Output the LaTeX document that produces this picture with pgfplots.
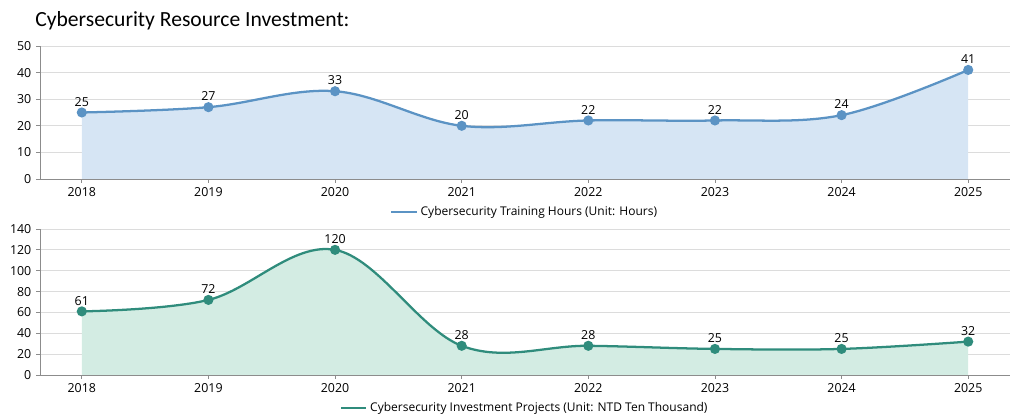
\documentclass[border=0pt]{standalone}
\usepackage{fontspec}
\setmainfont{Open Sans}
\newfontfamily\titlefont{Carlito}
\usepackage{pgfplots}
\pgfplotsset{compat=1.18}

\definecolor{blueline}{HTML}{5B93C4}
\definecolor{bluefill}{HTML}{D6E5F4}
\definecolor{greenline}{HTML}{2F8C7C}
\definecolor{greenfill}{HTML}{D3ECE3}
\definecolor{gridgray}{HTML}{DCDCDC}
\definecolor{axisgray}{HTML}{8C8C8C}

\pgfplotsset{
  panel/.style={
    scale only axis,
    anchor=south west,
    width=727.5pt,
    xmin=-0.33, xmax=7.33,
    ymin=0,
    xtick={0,...,7},
    xticklabels={2018,2019,2020,2021,2022,2023,2024,2025},
    axis x line*=bottom,
    axis y line*=left,
    axis line style={axisgray, line width=0.6pt},
    tick style={axisgray, line width=0.6pt},
    tick align=outside,
    major tick length=3pt,
    ymajorgrids,
    grid style={gridgray, line width=0.6pt},
    ticklabel style={font=\fontsize{9.3}{10}\selectfont, text=black},
    /pgf/number format/assume math mode=true,
    legend style={draw=none, fill=none, font=\fontsize{9}{10}\selectfont,
      legend cell align=left},
    legend image code/.code={\draw[line width=1.8pt] (0pt,0pt) -- (19pt,0pt);},
    nodes near coords,
    every node near coord/.append style={font=\fontsize{9.3}{10}\selectfont,
      text=black, yshift=0.5pt},
  },
}

\begin{document}
\begin{tikzpicture}
\path[use as bounding box] (0,0) rectangle (768pt,312pt);
\node[anchor=base west, inner sep=0pt] at (26.25pt,292pt)
  {\titlefont\fontsize{16.2}{20}\selectfont Cybersecurity Resource Investment:};

\begin{axis}[panel,
  at={(30pt,177.75pt)},
  height=99.75pt,
  ymax=50, ytick={0,10,...,50},
  legend style={at={(0.5,-0.248)}, anchor=center},
]
\addplot[draw=none, fill=bluefill, smooth, tension=0.6, forget plot,
  nodes near coords={}]
  coordinates {(0,25) (1,27) (2,33) (3,20) (4,22) (5,22) (6,24) (7,41)}
  \closedcycle;
\addplot[blueline, line width=1.7pt, smooth, tension=0.6,
  mark=*, mark size=2.9pt, mark options={fill=blueline, draw=blueline}]
  coordinates {(0,25) (1,27) (2,33) (3,20) (4,22) (5,22) (6,24) (7,41)};
\addlegendentry{Cybersecurity Training Hours (Unit: Hours)}
\end{axis}

\begin{axis}[panel,
  at={(30pt,30.75pt)},
  height=109.5pt,
  ymax=140, ytick={0,20,...,140},
  legend style={at={(0.5,-0.226)}, anchor=center},
]
\addplot[draw=none, fill=greenfill, smooth, tension=0.6, forget plot,
  nodes near coords={}]
  coordinates {(0,61) (1,72) (2,120) (3,28) (4,28) (5,25) (6,25) (7,32)}
  \closedcycle;
\addplot[greenline, line width=1.7pt, smooth, tension=0.6,
  mark=*, mark size=2.9pt, mark options={fill=greenline, draw=greenline}]
  coordinates {(0,61) (1,72) (2,120) (3,28) (4,28) (5,25) (6,25) (7,32)};
\addlegendentry{Cybersecurity Investment Projects (Unit: NTD Ten Thousand)}
\end{axis}
\end{tikzpicture}
\end{document}
